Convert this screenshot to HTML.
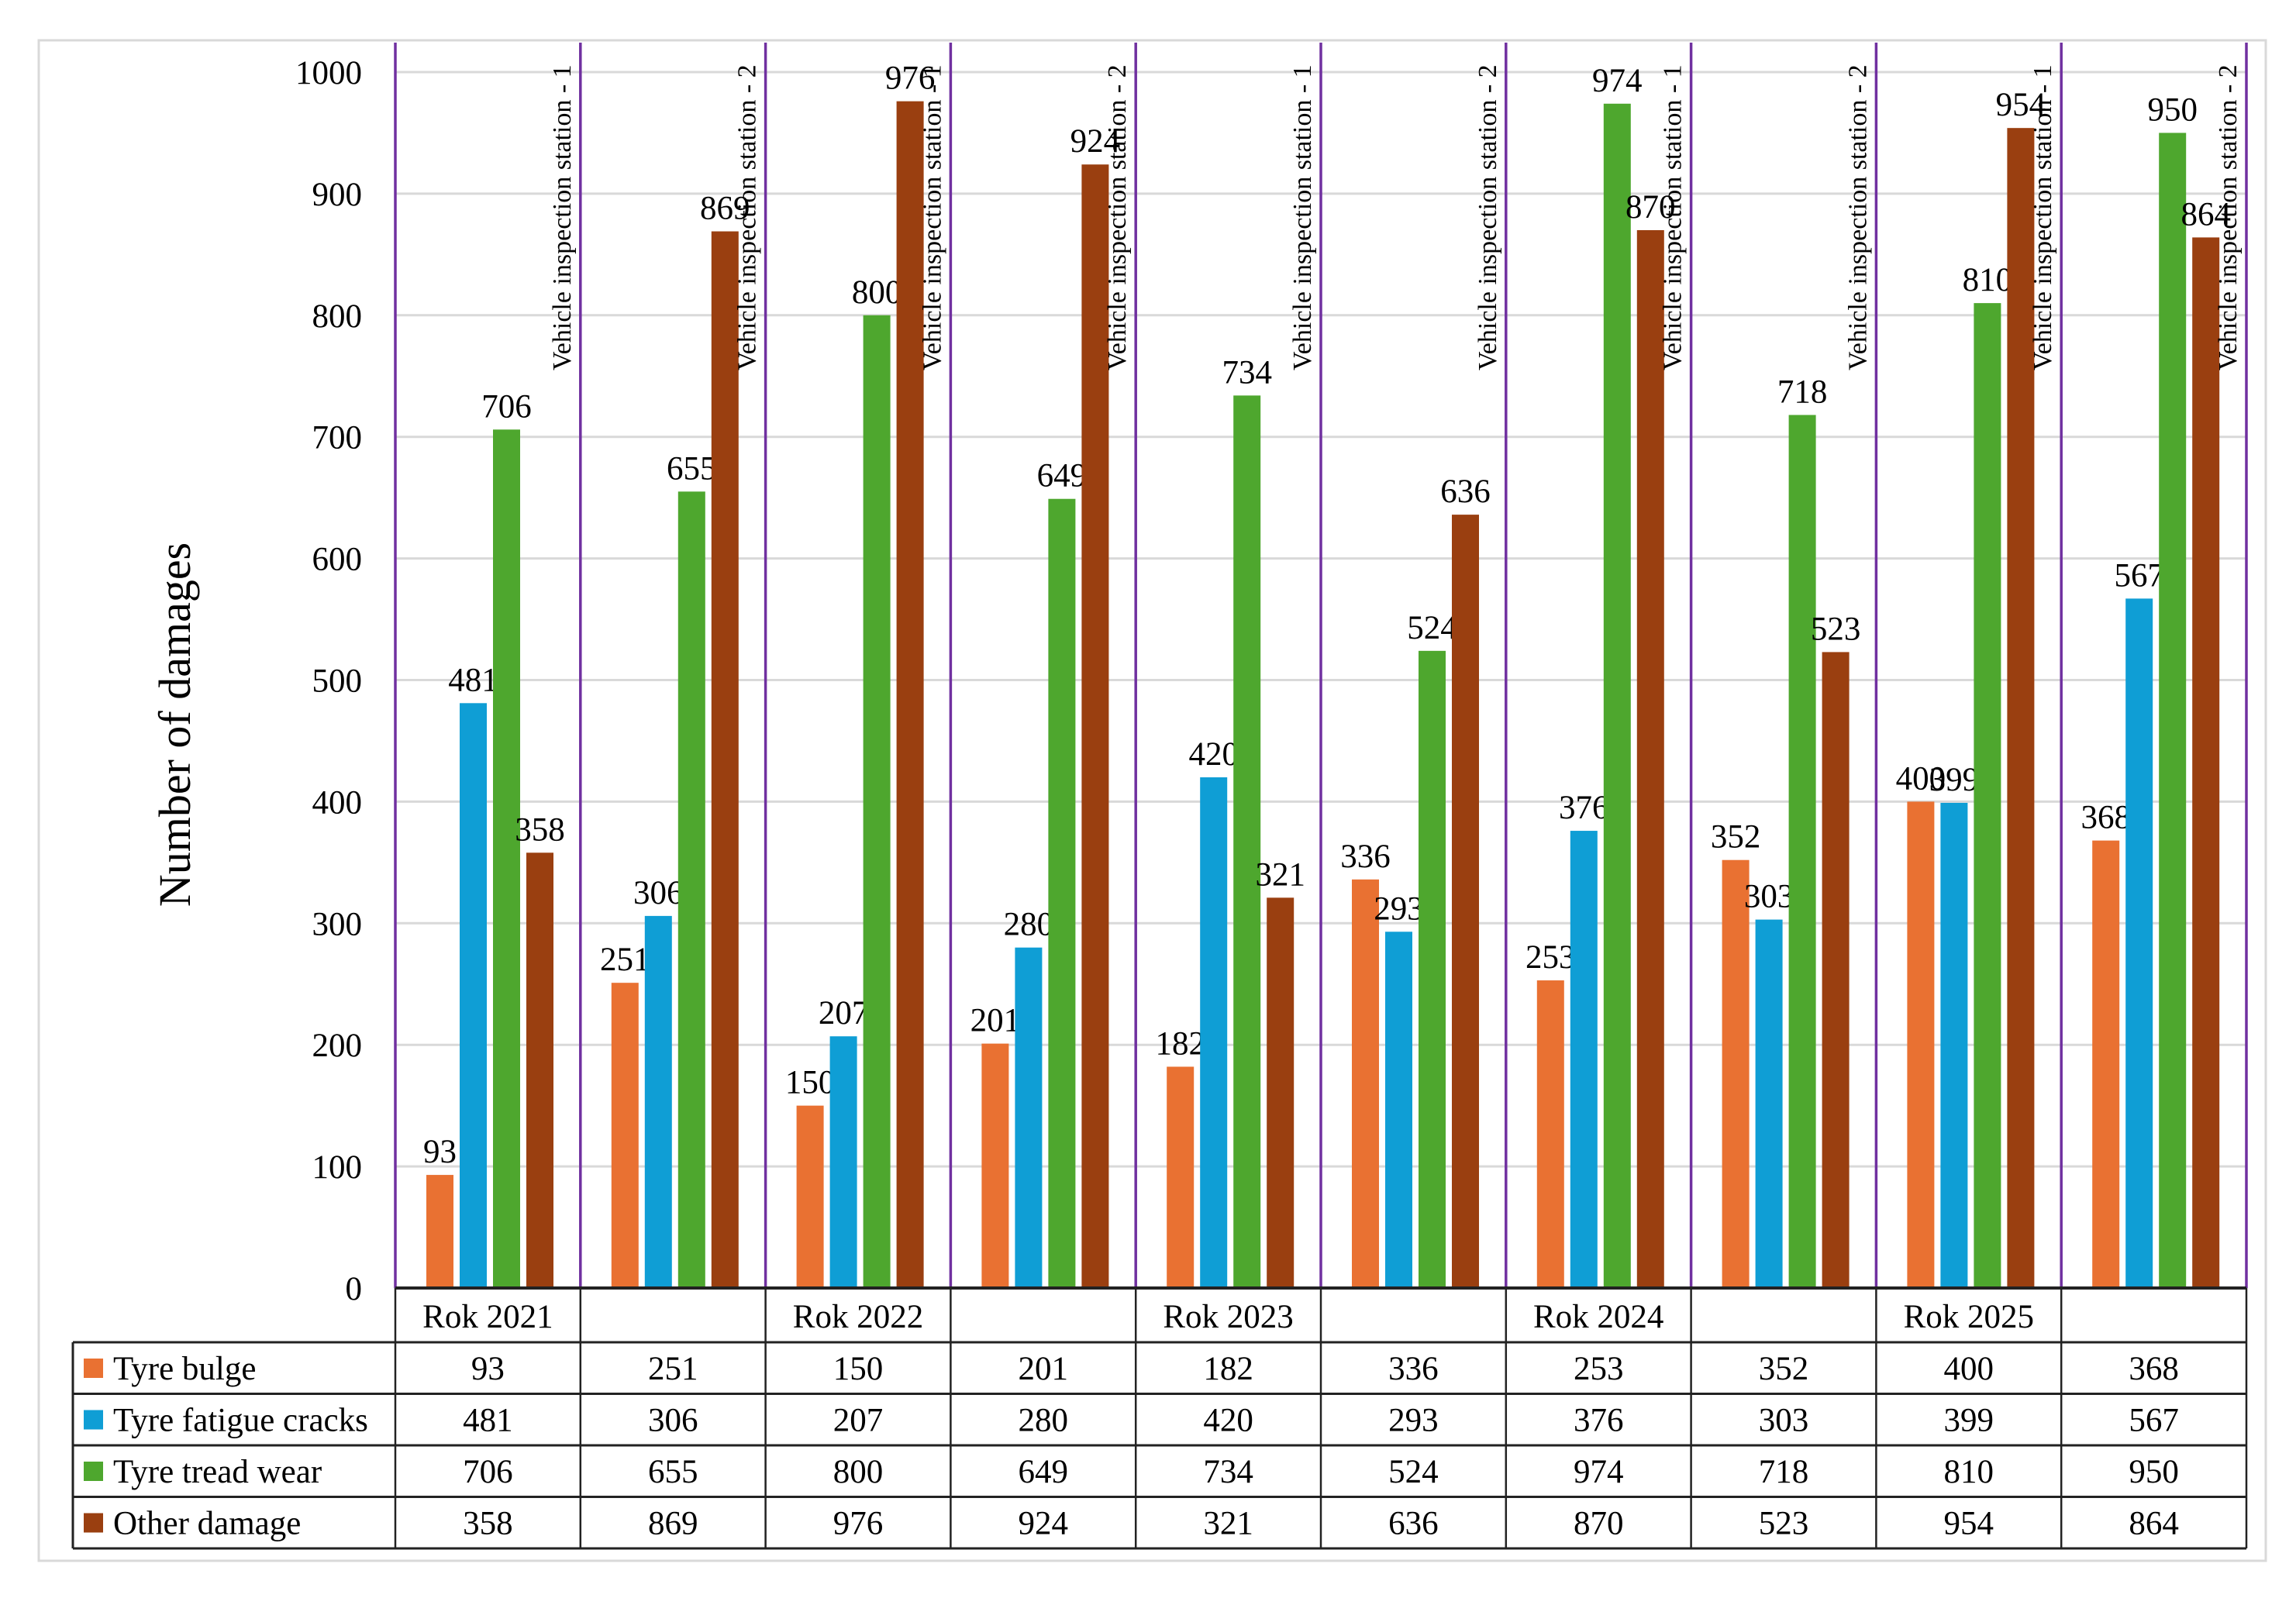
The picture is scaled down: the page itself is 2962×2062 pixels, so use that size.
<!DOCTYPE html>
<html><head><meta charset="utf-8">
<style>
html,body{margin:0;padding:0;background:#fff;}
svg{display:block;font-family:"Liberation Serif",serif;}
</style></head>
<body>
<svg id="chart" width="2962" height="2062" viewBox="0 0 2962 2062">
<rect x="50" y="52" width="2873" height="1962" fill="#fff" stroke="#d9d9d9" stroke-width="3"/>
<g id="grid"></g>
<g id="bars"></g>
<g id="table"></g>
<text x="245" y="935" font-size="58" text-anchor="middle" transform="rotate(-90 245 935)">Number of damages</text>
</svg>
<script>
const categories = ["Rok 2021","","Rok 2022","","Rok 2023","","Rok 2024","","Rok 2025",""];
const stations = ["Vehicle inspection station - 1","Vehicle inspection station - 2","Vehicle inspection station - 1","Vehicle inspection station - 2","Vehicle inspection station - 1","Vehicle inspection station - 2","Vehicle inspection station - 1","Vehicle inspection station - 2","Vehicle inspection station - 1","Vehicle inspection station - 2"];
const seriesNames = ["Tyre bulge","Tyre fatigue cracks","Tyre tread wear","Other damage"];
const tyreBulge = [93,251,150,201,182,336,253,352,400,368];
const fatigueCracks = [481,306,207,280,420,293,376,303,399,567];
const treadWear = [706,655,800,649,734,524,974,718,810,950];
const otherDamage = [358,869,976,924,321,636,870,523,954,864];
const yTicks = [0,100,200,300,400,500,600,700,800,900,1000];

const series = [tyreBulge, fatigueCracks, treadWear, otherDamage];
const colors = ["#E97132","#0F9ED5","#4EA72E","#9A3F10"];
const NS = "http://www.w3.org/2000/svg";
const plotL = 510, colW = 238.8, y0 = 1662, yTop = 93;
function y(v){ return y0 - (v/1000)*(y0-yTop); }
function colX(i){ return plotL + i*colW; }
function mk(tag, attrs, parent, text){
  const e = document.createElementNS(NS, tag);
  for (const k in attrs) e.setAttribute(k, attrs[k]);
  if (text !== undefined) e.textContent = text;
  parent.appendChild(e); return e;
}
const grid = document.getElementById('grid');
yTicks.forEach(t => {
  if (t > 0) {
    const gl = mk('line',{x1:plotL,x2:plotL+10*colW,y1:y(t),y2:y(t),stroke:'#d9d9d9','stroke-width':3},grid);
    
    
  }
  const tl = mk('text',{x:467,y:y(t)+15,'font-size':43,'text-anchor':'end'},grid,String(t));
  
  
});
for (let i=0;i<=10;i++){
  const vl = mk('line',{x1:colX(i),x2:colX(i),y1:55,y2:y0,stroke:'#7030A0','stroke-width':3.5},grid);
  
  
}
const bars = document.getElementById('bars');
const bw = 35, pitch = 43, off = 40;
for (let c=0;c<10;c++){
  for (let s=0;s<4;s++){
    const v = series[s][c];
    const bx = colX(c)+off+s*pitch;
    const r = mk('rect',{x:bx,y:y(v),width:bw,height:y0-y(v),fill:colors[s]},bars);
    
    
    const lb = mk('text',{x:bx+bw/2,y:y(v)-16,'font-size':43,'text-anchor':'middle'},bars,String(v));
    
    
  }
  const sx = colX(c)+colW-13, sy = 478;
  const st = mk('text',{x:sx,y:sy,'font-size':34,transform:'rotate(-90 '+sx+' '+sy+')'},bars,stations[c]);
  
  
}
const axis = mk('line',{x1:plotL,x2:plotL+10*colW,y1:y0,y2:y0,stroke:'#222','stroke-width':4},bars);



const tb = document.getElementById('table');
const tL = 94, rowTop = 1732, rowH = 66.5, tR = plotL+10*colW;
for (let i=0;i<=10;i++){
  const l = mk('line',{x1:colX(i),x2:colX(i),y1:y0,y2:rowTop+4*rowH,stroke:'#222','stroke-width':2.5},tb);
  
  
}
mk('line',{x1:tL,x2:tL,y1:rowTop,y2:rowTop+4*rowH,stroke:'#222','stroke-width':3},tb);
for (let r=0;r<=4;r++){
  const l = mk('line',{x1:tL,x2:tR,y1:rowTop+r*rowH,y2:rowTop+r*rowH,stroke:'#222','stroke-width':3},tb);
  
  
}
categories.forEach((c,i)=>{
  if (!c) return;
  const t = mk('text',{x:colX(i)+colW/2,y:1713,'font-size':43,'text-anchor':'middle'},tb,c);
  
  
});
seriesNames.forEach((n,s)=>{
  const ry = rowTop + s*rowH;
  const sw = mk('rect',{x:108,y:ry+21,width:25,height:25,fill:colors[s]},tb);
  
  
  const t = mk('text',{x:146,y:ry+48,'font-size':43},tb,n);
  
  
  series[s].forEach((v,c)=>{
    const cv = mk('text',{x:colX(c)+colW/2,y:ry+48,'font-size':43,'text-anchor':'middle'},tb,String(v));
    
    
  });
});
</script>
</body></html>
